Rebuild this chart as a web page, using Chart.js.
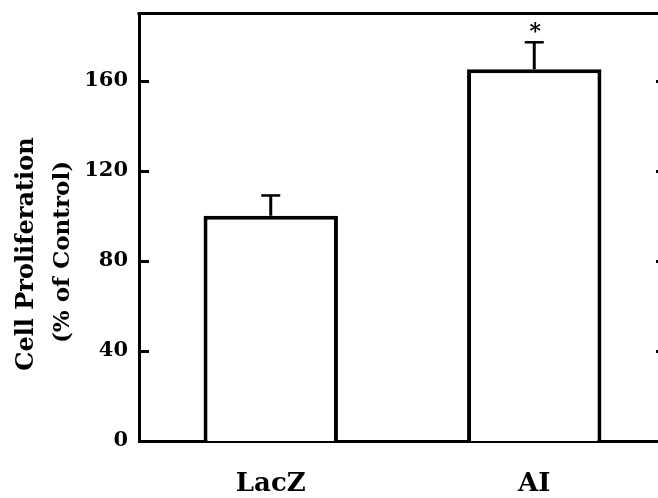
<!DOCTYPE html>
<html>
<head>
<meta charset="utf-8">
<script src="https://cdn.jsdelivr.net/npm/chart.js@4/dist/chart.umd.min.js"></script>
<style>
  html, body { margin: 0; padding: 0; background: #fff; overflow: hidden; }
  #wrap { width: 672px; height: 498px; }
</style>
</head>
<body>
<div id="wrap"><canvas id="myChart" width="672" height="498"></canvas></div>
<script>
// data
const groups = ['LacZ', 'AI'];
const proliferation = [100, 165];
const sem = [9, 12];
const marks = ['', '*'];
const yTicks = [0, 40, 80, 120, 160];

const FONT = '"DejaVu Serif", "Liberation Serif", serif';

// error bars, asterisk, inward ticks, top frame line and axis title
const decorations = {
    id: 'decorations',
    afterDatasetsDraw(chart) {
        const ctx = chart.ctx;
        const area = chart.chartArea;
        const y = chart.scales.y;
        const meta = chart.getDatasetMeta(0);
        ctx.save();
        ctx.strokeStyle = '#000';
        ctx.fillStyle = '#000';

        meta.data.forEach(function (bar, i) {
            const top = y.getPixelForValue(proliferation[i] + sem[i]);
            ctx.lineWidth = 3;
            ctx.beginPath();
            ctx.moveTo(bar.x, bar.y);
            ctx.lineTo(bar.x, top);
            ctx.stroke();
            ctx.lineWidth = 2.5;
            ctx.beginPath();
            ctx.moveTo(bar.x - 9.5, top);
            ctx.lineTo(bar.x + 9.5, top);
            ctx.stroke();
            if (marks[i]) {
                ctx.font = 'bold 22px ' + FONT;
                ctx.textAlign = 'center';
                ctx.textBaseline = 'alphabetic';
                ctx.fillText(marks[i], bar.x + 1, top - 4);
            }
        });

        // inward ticks, left and right
        ctx.lineWidth = 3;
        y.ticks.forEach(function (t) {
            if (t.value === 0) return;
            const py = Math.round(y.getPixelForValue(t.value)) + 0.5;
            ctx.beginPath();
            ctx.moveTo(area.left, py);
            ctx.lineTo(area.left + 10, py);
            ctx.moveTo(area.right - 10, py);
            ctx.lineTo(area.right, py);
            ctx.stroke();
        });

        // top frame
        ctx.beginPath();
        ctx.moveTo(area.left - 1.5, area.top + 0.5);
        ctx.lineTo(chart.width, area.top + 0.5);
        ctx.stroke();

        // y axis title, two lines
        ctx.textAlign = 'center';
        ctx.textBaseline = 'middle';
        ctx.translate(27, 254);
        ctx.rotate(-Math.PI / 2);
        ctx.font = 'bold 24px ' + FONT;
        ctx.fillText('Cell Proliferation', 0, 0);
        ctx.font = 'bold 23px ' + FONT;
        ctx.fillText('(% of Control)', 2, 36);
        ctx.restore();
    }
};

const ctx = document.getElementById('myChart').getContext('2d');

const config = {
    type: 'bar',
    data: {
        labels: groups,
        datasets: [{
            data: proliferation,
            backgroundColor: '#FFFFFF',
            borderColor: '#000000',
            borderWidth: 4,
            borderSkipped: 'bottom',
            barPercentage: 0.51,
            categoryPercentage: 1.0
        }]
    },
    options: {
        responsive: false,
        animation: false,
        events: [],
        layout: {
            padding: { top: 0, right: 6, left: 0, bottom: 0 }
        },
        plugins: {
            legend: { display: false },
            tooltip: { enabled: false }
        },
        scales: {
            x: {
                grid: { display: false, drawTicks: false },
                border: { display: true, color: '#000', width: 3 },
                ticks: {
                    color: '#000',
                    padding: 28,
                    font: { family: FONT, size: 26, weight: 'bold' }
                },
                afterFit: function (scale) { scale.height = 57; }
            },
            y: {
                min: 0,
                max: 190,
                grid: { display: false, drawTicks: false },
                border: { display: true, color: '#000', width: 3 },
                ticks: {
                    color: '#000',
                    padding: 11,
                    font: { family: FONT, size: 21, weight: 'bold' }
                },
                afterBuildTicks: function (scale) {
                    scale.ticks = yTicks.map(function (v) { return { value: v }; });
                },
                afterFit: function (scale) {
                    scale.width = 139;
                    scale.paddingTop = 13;
                }
            }
        }
    },
    plugins: [decorations]
};

const cellChart = new Chart(ctx, config);
</script>
</body>
</html>
